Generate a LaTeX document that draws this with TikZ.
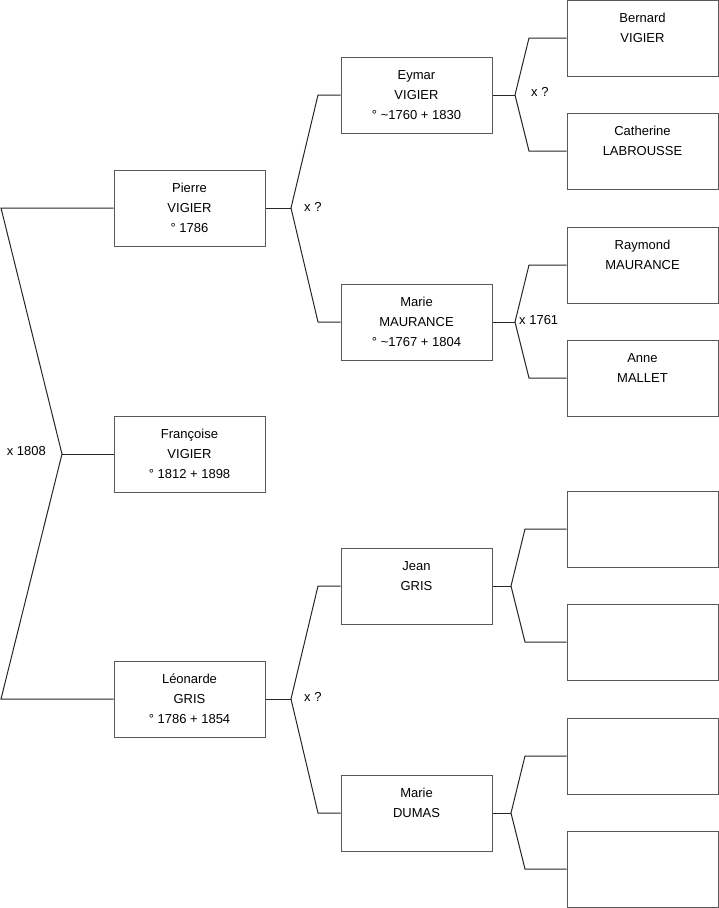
\documentclass[tikz,border=0pt]{standalone}
\usepackage{fontspec}
\setmainfont{Liberation Sans}
\usetikzlibrary{positioning}

\begin{document}
\begin{tikzpicture}[
  x=1pt,y=-1pt,
  font=\fontsize{13pt}{20pt}\selectfont,
  person/.style={draw=black!65,line width=1pt,align=center,inner sep=0pt,
    minimum width=151pt,minimum height=76pt},
  link/.style={draw=black!85,line width=1pt},
  union/.style={inner sep=0pt,anchor=west}
]
\useasboundingbox (0,0) rectangle (719,908);

% Generation 1: the subject.
\node[person] (francoise) at (189.5,454) {Françoise\\VIGIER\\° 1812 + 1898};

% Generation 2: parents.
\node[person] (pierre) at (189.5,208) {Pierre\\VIGIER\\° 1786};
\node[person] (leonarde) at (189.5,699) {Léonarde\\GRIS\\° 1786 + 1854};

% Generation 3: grandparents.
\node[person] (eymar) at (416.5,95) {Eymar\\VIGIER\\° \textasciitilde1760 + 1830};
\node[person] (mariem) at (416.5,322) {Marie\\MAURANCE\\° \textasciitilde1767 + 1804};
\node[person] (jean) at (416.5,586) {Jean\\GRIS\\~};
\node[person] (maried) at (416.5,813) {Marie\\DUMAS\\~};

% Generation 4: great-grandparents.
\node[person] (bernard) at (642.5,38) {Bernard\\VIGIER\\~};
\node[person] (catherine) at (642.5,151) {Catherine\\LABROUSSE\\~};
\node[person] (raymond) at (642.5,265) {Raymond\\MAURANCE\\~};
\node[person] (anne) at (642.5,378) {Anne\\MALLET\\~};
\node[person] (jeanf) at (642.5,529) {};
\node[person] (jeanm) at (642.5,642) {};
\node[person] (mariedf) at (642.5,756) {};
\node[person] (mariedm) at (642.5,869) {};

% Couple of Pierre and Léonarde.
\coordinate (c1) at (62,454);
\coordinate (c1top) at (1,208);
\coordinate (c1bot) at (1,699);
\draw[link] (francoise.west) -- (c1);
\draw[link] (pierre.west) -- (c1top) -- (c1) -- (c1bot) -- (leonarde.west);
\node[union,anchor=east] (m1) at (46,451) {x 1808};

% Couple of Eymar and Marie Maurance.
\coordinate (c2) at (291,208);
\coordinate (c2top) at (318,95);
\coordinate (c2bot) at (318,322);
\draw[link] (pierre.east) -- (c2);
\draw[link] (eymar.west) -- (c2top) -- (c2) -- (c2bot) -- (mariem.west);
\node[union] (m2) at (304,207) {x ?};

% Couple of Jean and Marie Dumas.
\coordinate (c3) at (291,699);
\coordinate (c3top) at (318,586);
\coordinate (c3bot) at (318,813);
\draw[link] (leonarde.east) -- (c3);
\draw[link] (jean.west) -- (c3top) -- (c3) -- (c3bot) -- (maried.west);
\node[union] (m3) at (304,697) {x ?};

% Couple of Bernard and Catherine.
\coordinate (c4) at (515,95);
\coordinate (c4top) at (529,38);
\coordinate (c4bot) at (529,151);
\draw[link] (eymar.east) -- (c4);
\draw[link] (bernard.west) -- (c4top) -- (c4) -- (c4bot) -- (catherine.west);
\node[union] (m4) at (531,92) {x ?};

% Couple of Raymond and Anne.
\coordinate (c5) at (515,322);
\coordinate (c5top) at (529,265);
\coordinate (c5bot) at (529,378);
\draw[link] (mariem.east) -- (c5);
\draw[link] (raymond.west) -- (c5top) -- (c5) -- (c5bot) -- (anne.west);
\node[union] (m5) at (519,320) {x 1761};

% Unknown parents of Jean and Marie Dumas.
\coordinate (c6) at (511,586);
\coordinate (c6top) at (525,529);
\coordinate (c6bot) at (525,642);
\draw[link] (jean.east) -- (c6);
\draw[link] (jeanf.west) -- (c6top) -- (c6) -- (c6bot) -- (jeanm.west);

\coordinate (c7) at (511,813);
\coordinate (c7top) at (525,756);
\coordinate (c7bot) at (525,869);
\draw[link] (maried.east) -- (c7);
\draw[link] (mariedf.west) -- (c7top) -- (c7) -- (c7bot) -- (mariedm.west);
\end{tikzpicture}
\end{document}
